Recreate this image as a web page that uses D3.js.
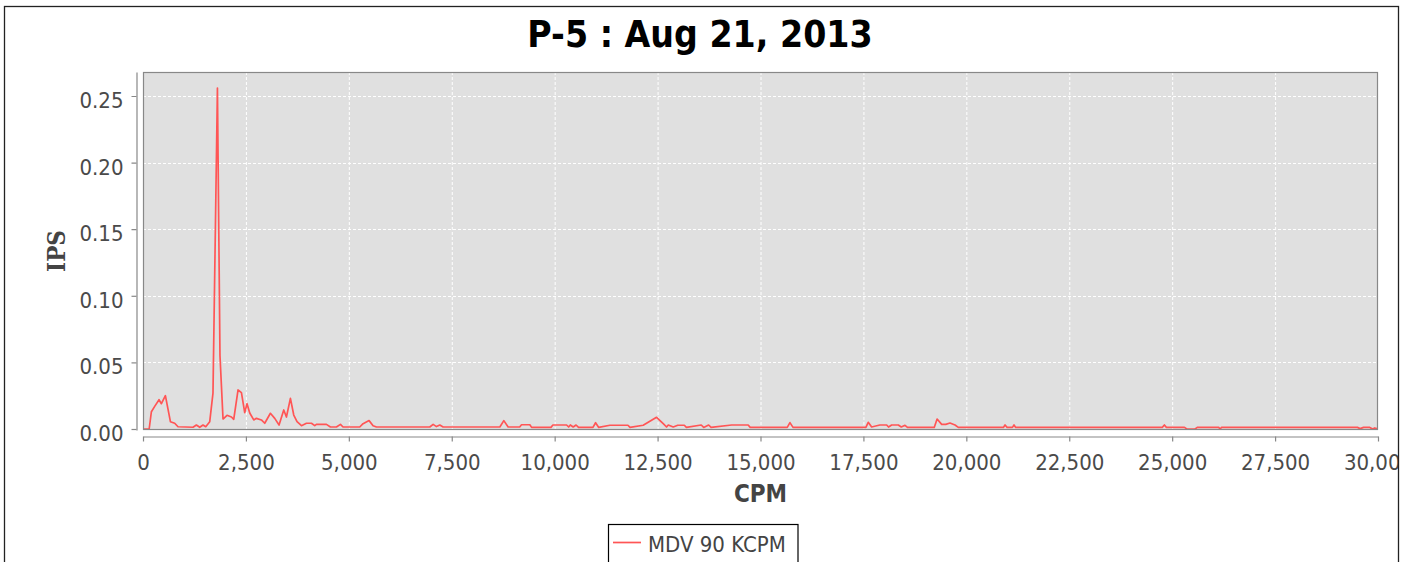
<!DOCTYPE html>
<html>
<head>
<meta charset="utf-8">
<script src="https://cdn.jsdelivr.net/npm/d3@7"></script>
<style>
  html, body { margin: 0; padding: 0; background: #ffffff; }
  svg { display: block; }
</style>
</head>
<body>
<svg id="chart" width="1402" height="562"></svg>
<script>
const titleText = "P-5 : Aug 21, 2013";
const xLabel = "CPM";
const yLabel = "IPS";
const seriesName = "MDV 90 KCPM";

const cpm = [0, 150, 204, 284, 389, 447, 544, 666, 770, 851, 1215, 1297, 1378, 1458, 1524, 1621,
  1700, 1808, 1850, 1870, 1944, 2041, 2148, 2204, 2309, 2391, 2471, 2527, 2593, 2690, 2755, 2876,
  2957, 3095, 3200, 3305, 3419, 3484, 3581, 3662, 3742, 3849, 3970, 4092, 4172, 4213, 4456, 4553,
  4699, 4796, 4860, 5265, 5346, 5492, 5589, 5671, 6967, 7048, 7129, 7210, 7290, 8668, 8765, 8870,
  9150, 9195, 9397, 9440, 9910, 9957, 10290, 10340, 10380, 10450, 10520, 10580, 10930, 10994, 11070,
  11342, 11780, 11830, 12150, 12272, 12475, 12637, 12718, 12760, 12880, 12990, 13150, 13200, 13560,
  13620, 13740, 13800, 14300, 14700, 14750, 15650, 15715, 15790, 17560, 17617, 17700, 17900, 18065,
  18110, 18186, 18348, 18420, 18510, 18570, 19220, 19290, 19401, 19500, 19603, 19725, 19805, 20900,
  20940, 20990, 21120, 21158, 21200, 24760, 24811, 24860, 25300, 25355, 25557, 25610, 26130, 26164,
  26200, 29500, 29566, 29650, 29800, 29870, 29920, 30000];
const ips = [0, 0, 0.013, 0.017, 0.022, 0.019, 0.025, 0.0055, 0.0043, 0.0017, 0.0013, 0.003, 0.0013, 0.003, 0.0017, 0.0055,
  0.027, 0.256, 0.12, 0.055, 0.0075, 0.0103, 0.009, 0.0073, 0.0293, 0.0273, 0.0123, 0.019, 0.012, 0.0068, 0.008, 0.0068,
  0.0043, 0.0118, 0.008, 0.003, 0.0143, 0.009, 0.023, 0.0105, 0.0055, 0.0025, 0.0043, 0.0043, 0.0025, 0.0035, 0.0035, 0.0015,
  0.0015, 0.0035, 0.0015, 0.0015, 0.004, 0.0063, 0.0025, 0.0015, 0.0015, 0.0035, 0.0018, 0.003, 0.0015, 0.0015, 0.0063, 0.0015,
  0.0015, 0.0032, 0.0032, 0.0012, 0.0012, 0.003, 0.003, 0.0015, 0.003, 0.0015, 0.003, 0.0012, 0.0012, 0.0047, 0.0012,
  0.0028, 0.0028, 0.0012, 0.0028, 0.005, 0.0088, 0.004, 0.0015, 0.003, 0.0015, 0.0028, 0.0028, 0.0012, 0.003,
  0.0012, 0.003, 0.0012, 0.003, 0.003, 0.0012, 0.0012, 0.0048, 0.0012, 0.0012, 0.005, 0.0015, 0.003, 0.003,
  0.0015, 0.003, 0.003, 0.0015, 0.0028, 0.0012, 0.0012, 0.0075, 0.0035, 0.0035, 0.0045, 0.003, 0.0012, 0.0012,
  0.003, 0.0012, 0.0012, 0.003, 0.0012, 0.0012, 0.003, 0.0012, 0.0012, 0, 0, 0.0012, 0.0012, 0,
  0.0012, 0.0012, 0.0003, 0.0012, 0.0012, 0, 0.0008, 0];

const xTicks = [0, 2500, 5000, 7500, 10000, 12500, 15000, 17500, 20000, 22500, 25000, 27500, 30000];
const yTicks = [0, 0.05, 0.10, 0.15, 0.20, 0.25];

const FONT = "'DejaVu Sans Condensed', 'DejaVu Sans', sans-serif";
const SERIF = "'DejaVu Serif Condensed', 'DejaVu Serif', serif";

const svg = d3.select("#chart");
const pL = 143, pR = 1378, pT = 72, pB = 430;

const x = d3.scaleLinear().domain([0, 30000]).range([pL, pR]);
const y0 = d3.scaleLinear().domain([0, 0.25]).range([429, 96]);
const y = d3.scaleLinear().domain([y0.invert(pB), y0.invert(pT)]).range([pB, pT]);

const defs = svg.append("defs");
defs.append("clipPath").attr("id", "panel")
  .append("rect").attr("x", 4).attr("y", 6).attr("width", 1394.5).attr("height", 570);
defs.append("clipPath").attr("id", "plotclip")
  .append("rect").attr("x", pL).attr("y", pT).attr("width", pR - pL).attr("height", pB - pT);

const g = svg.append("g").attr("clip-path", "url(#panel)");

// plot background
g.append("rect").attr("x", pL).attr("y", pT).attr("width", pR - pL).attr("height", pB - pT)
  .attr("fill", "#e0e0e0");

// gridlines
g.append("g").selectAll("line").data(xTicks.slice(1, -1)).join("line")
  .attr("x1", d => x(d) + 0.5).attr("x2", d => x(d) + 0.5)
  .attr("y1", pT).attr("y2", pB)
  .attr("stroke", "#ffffff").attr("stroke-width", 1).attr("stroke-dasharray", "3,2");
g.append("g").selectAll("line").data(yTicks.slice(1)).join("line")
  .attr("x1", pL).attr("x2", pR)
  .attr("y1", d => Math.round(y(d)) + 0.5).attr("y2", d => Math.round(y(d)) + 0.5)
  .attr("stroke", "#ffffff").attr("stroke-width", 1).attr("stroke-dasharray", "3,2");

// series line
const pts = cpm.map((c, i) => [c, ips[i]]);
g.append("path").datum(pts)
  .attr("clip-path", "url(#plotclip)")
  .attr("fill", "none").attr("stroke", "#ff5555").attr("stroke-width", 1.7)
  .attr("stroke-linejoin", "round")
  .attr("d", d3.line().x(d => x(d[0])).y(d => y(d[1])));

// plot outline
g.append("rect").attr("x", pL + 0.5).attr("y", pT + 0.5).attr("width", pR - pL - 1).attr("height", pB - pT - 1)
  .attr("fill", "none").attr("stroke", "#888888").attr("stroke-width", 1.2);

// axes
const yAxis = g.append("g").attr("transform", "translate(136.5,0)")
  .call(d3.axisLeft(y).tickValues(yTicks).tickFormat(d3.format(".2f")).tickSize(5).tickSizeOuter(0).tickPadding(8));
const xAxis = g.append("g").attr("transform", "translate(0,436.5)")
  .call(d3.axisBottom(x).tickValues(xTicks).tickFormat(d3.format(",")).tickSize(5).tickSizeOuter(0).tickPadding(8));
[yAxis, xAxis].forEach(a => {
  a.select(".domain").attr("stroke", "#888888").attr("stroke-width", 1.2);
  a.selectAll(".tick line").attr("stroke", "#888888").attr("stroke-width", 1.2);
  a.selectAll(".tick text").attr("fill", "#4a4a4a").style("font-family", FONT).style("font-size", "22px");
});
yAxis.selectAll(".tick text").attr("dy", "0.52em").attr("x", -13);
xAxis.selectAll(".tick text").attr("dy", "0.95em");

// title
g.append("text").attr("x", 700).attr("y", 47).attr("text-anchor", "middle")
  .style("font-family", FONT).style("font-weight", "bold").style("font-size", "37px")
  .attr("fill", "#000000").text(titleText);

// axis labels
g.append("text").attr("x", (pL + pR) / 2).attr("y", 502).attr("text-anchor", "middle")
  .style("font-family", FONT).style("font-weight", "bold").style("font-size", "24px")
  .attr("fill", "#444444").text(xLabel);
g.append("text").attr("transform", "translate(65," + ((pT + pB) / 2) + ") rotate(-90)")
  .attr("text-anchor", "middle")
  .style("font-family", SERIF).style("font-weight", "bold").style("font-size", "24px")
  .attr("fill", "#444444").text(yLabel);

// legend
const lg = g.append("g");
lg.append("rect").attr("x", 608.5).attr("y", 524.5).attr("width", 189.5).attr("height", 50)
  .attr("fill", "#ffffff").attr("stroke", "#000000").attr("stroke-width", 1.2);
lg.append("line").attr("x1", 613).attr("x2", 641).attr("y1", 542.5).attr("y2", 542.5)
  .attr("stroke", "#ff5555").attr("stroke-width", 1.7);
lg.append("text").attr("x", 648).attr("y", 551.5)
  .style("font-family", FONT).style("font-size", "22px").attr("fill", "#444444").text(seriesName);

// panel border
svg.append("rect").attr("x", 4.5).attr("y", 6.5).attr("width", 1394).attr("height", 600)
  .attr("fill", "none").attr("stroke", "#222222").attr("stroke-width", 1.3);
</script>
</body>
</html>
